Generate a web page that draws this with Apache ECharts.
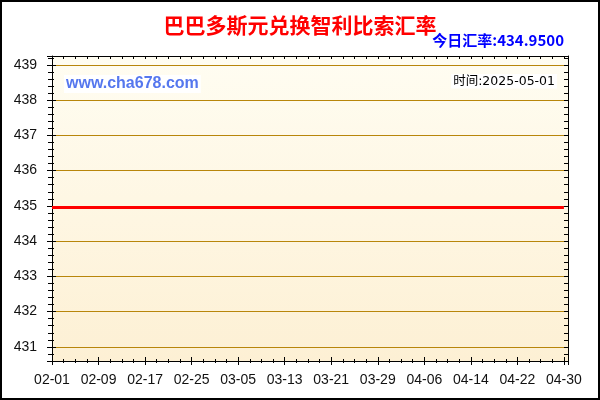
<!DOCTYPE html>
<html lang="zh">
<head>
    <meta charset="utf-8">
    <title>巴巴多斯元兑换智利比索汇率</title>
    <script type="text/javascript" src="https://cdn.jsdelivr.net/npm/echarts/dist/echarts.min.js"></script>
    <style>
        html, body { margin: 0; padding: 0; background: #fff; }
    </style>
</head>
<body>
    <div id="chart" style="width: 600px; height: 400px;"></div>

    <script type="text/javascript" charset="utf-8">
        // daily rate, 2025-02-01 .. 2025-04-30
        var dates = [
            '02-01','02-02','02-03','02-04','02-05','02-06','02-07','02-08','02-09','02-10',
            '02-11','02-12','02-13','02-14','02-15','02-16','02-17','02-18','02-19','02-20',
            '02-21','02-22','02-23','02-24','02-25','02-26','02-27','02-28',
            '03-01','03-02','03-03','03-04','03-05','03-06','03-07','03-08','03-09','03-10',
            '03-11','03-12','03-13','03-14','03-15','03-16','03-17','03-18','03-19','03-20',
            '03-21','03-22','03-23','03-24','03-25','03-26','03-27','03-28','03-29','03-30','03-31',
            '04-01','04-02','04-03','04-04','04-05','04-06','04-07','04-08','04-09','04-10',
            '04-11','04-12','04-13','04-14','04-15','04-16','04-17','04-18','04-19','04-20',
            '04-21','04-22','04-23','04-24','04-25','04-26','04-27','04-28','04-29','04-30'
        ];
        var rates = [
            434.95,434.95,434.95,434.95,434.95,434.95,434.95,434.95,434.95,434.95,
            434.95,434.95,434.95,434.95,434.95,434.95,434.95,434.95,434.95,434.95,
            434.95,434.95,434.95,434.95,434.95,434.95,434.95,434.95,
            434.95,434.95,434.95,434.95,434.95,434.95,434.95,434.95,434.95,434.95,
            434.95,434.95,434.95,434.95,434.95,434.95,434.95,434.95,434.95,434.95,
            434.95,434.95,434.95,434.95,434.95,434.95,434.95,434.95,434.95,434.95,434.95,
            434.95,434.95,434.95,434.95,434.95,434.95,434.95,434.95,434.95,434.95,
            434.95,434.95,434.95,434.95,434.95,434.95,434.95,434.95,434.95,434.95,
            434.95,434.95,434.95,434.95,434.95,434.95,434.95,434.95,434.95,434.95
        ];
        var titleText = '巴巴多斯元兑换智利比索汇率';
        var todayText = '今日汇率:434.9500';
        var siteText = 'www.cha678.com';
        var timeText = '时间:2025-05-01';

        var YMIN = 430.6, YMAX = 439.25;
        var XMIN = 0, XMAX = 88.7;

        var black = '#000';
        var gold = '#b8860b';
        var labelFont = 'Liberation Sans, Arial, sans-serif';

        // one helper for the many stacked axes (ticks crossing the frame line)
        function xAx(pos, interval, inside, len, main) {
            return {
                type: 'value', position: pos, min: XMIN, max: XMAX, interval: interval,
                axisLine: { show: !!main, onZero: false, lineStyle: { color: black, width: 1 } },
                axisTick: { show: true, inside: inside, length: len, lineStyle: { color: black } },
                axisLabel: main === 'label' ? {
                    show: true, margin: 12, color: '#111', fontSize: 14, fontFamily: labelFont,
                    formatter: function (v) { return dates[v] || ''; }
                } : { show: false },
                splitLine: { show: false }
            };
        }
        function yAx(pos, interval, inside, len, main) {
            var a = {
                type: 'value', position: pos, min: YMIN, max: YMAX,
                axisLine: { show: !!main, onZero: false, lineStyle: { color: black, width: 1 } },
                axisTick: { show: true, inside: inside, length: len, lineStyle: { color: black } },
                axisLabel: main === 'label' ? {
                    show: true, margin: 15, color: '#111', fontSize: 14, fontFamily: labelFont,
                    formatter: function (v) {
                        return Math.abs(v - Math.round(v)) < 1e-6 ? String(Math.round(v)) : '';
                    }
                } : { show: false },
                splitLine: main === 'label' ? { show: true, lineStyle: { color: gold, width: 1 } } : { show: false }
            };
            if (interval) a.interval = interval; else a.splitNumber = 9;
            return a;
        }

        var myChart = echarts.init(document.getElementById('chart'));
        myChart.setOption({
            animation: false,
            backgroundColor: '#fff',
            title: {
                text: titleText,
                left: 'center',
                top: 10,
                textStyle: { color: '#ff0000', fontSize: 21, fontWeight: 'bold', fontFamily: 'Noto Sans CJK SC' }
            },
            grid: {
                left: 52, right: 32, top: 56, bottom: 39,
                show: true, borderWidth: 0,
                backgroundColor: new echarts.graphic.LinearGradient(0, 0, 0, 1, [
                    { offset: 0, color: '#fffdf2' },
                    { offset: 1, color: '#fdf0d4' }
                ])
            },
            xAxis: [
                xAx('bottom', 8, false, 4, 'label'),
                xAx('bottom', 8, true, 4),
                xAx('bottom', 2, false, 2),
                xAx('bottom', 2, true, 2),
                xAx('top', 2, true, 3, 'line')
            ],
            yAxis: [
                yAx('left', 0, false, 5, 'label'),
                yAx('left', 0, true, 4),
                yAx('left', 0.2, false, 4),
                yAx('left', 0.2, true, 2),
                yAx('right', 0.2, true, 4, 'line')
            ],
            series: [{
                name: 'rate',
                type: 'line',
                xAxisIndex: 0,
                yAxisIndex: 0,
                showSymbol: false,
                z: 10,
                lineStyle: { color: '#ff0000', width: 3 },
                data: rates.map(function (v, i) { return [i, v]; })
            }],
            graphic: [
                {
                    type: 'rect', silent: true, z: 100,
                    shape: { x: 1, y: 1, width: 598, height: 398 },
                    style: { fill: 'none', stroke: '#000', lineWidth: 2 }
                },
                {
                    type: 'text', right: 36, top: 33, z: 100,
                    style: {
                        text: todayText, fill: '#0000ff',
                        font: 'bold 15px "Noto Sans CJK SC", sans-serif'
                    }
                },
                {
                    type: 'text', left: 64, top: 75, z: 100,
                    style: {
                        text: siteText, fill: '#5577ee', backgroundColor: '#fff',
                        padding: [1, 2, 1, 2],
                        font: 'bold 16px "Liberation Sans", Arial, sans-serif'
                    }
                },
                {
                    type: 'text', right: 43, top: 74, z: 100,
                    style: {
                        text: timeText, fill: '#000', backgroundColor: '#fff',
                        padding: [1, 2, 1, 2],
                        font: '12.5px "DejaVu Sans", "Noto Sans CJK SC", sans-serif'
                    }
                }
            ]
        });
    </script>
</body>
</html>
